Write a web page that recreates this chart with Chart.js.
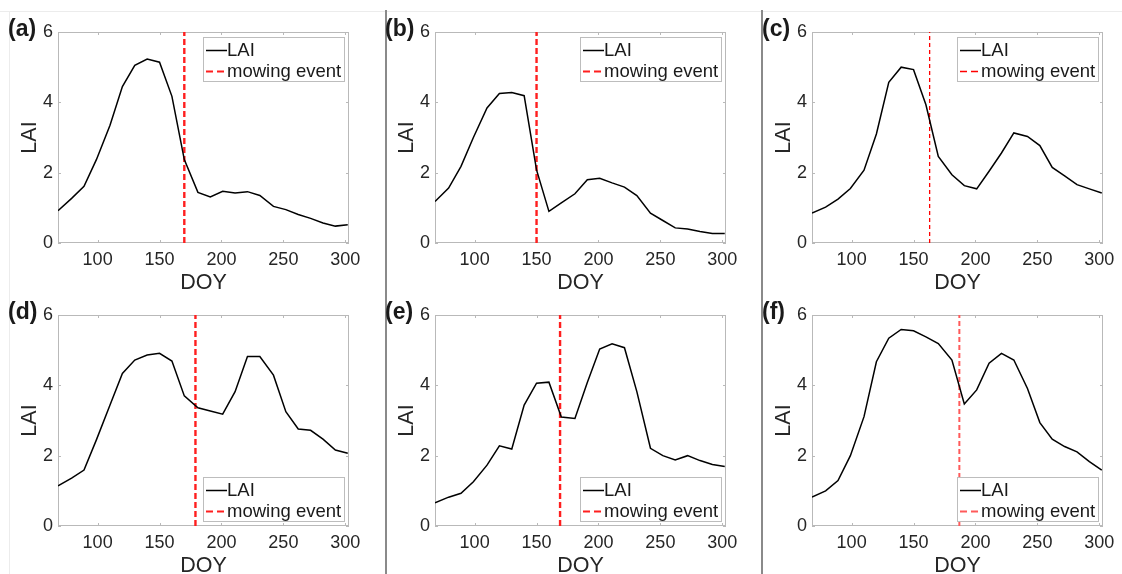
<!DOCTYPE html>
<html>
<head>
<meta charset="utf-8">
<script src="https://cdn.jsdelivr.net/npm/chart.js@4.4.1/dist/chart.umd.min.js"></script>
<style>
  html, body { margin: 0; padding: 0; background: #ffffff; }
  body { width: 1122px; height: 574px; position: relative; overflow: hidden; }
  canvas { position: absolute; }
  .sep { position: absolute; background: #8a8a8a; }
  .faint { position: absolute; background: #ececec; }
</style>
</head>
<body>
<div class="faint" style="left:0;top:11px;width:1122px;height:1px;"></div>
<div class="faint" style="left:9px;top:11px;width:1px;height:563px;"></div>
<div class="sep" style="left:385px;top:10px;width:1.5px;height:564px;"></div>
<div class="sep" style="left:761px;top:10px;width:1.5px;height:564px;"></div>

<canvas id="c0"></canvas>
<canvas id="c1"></canvas>
<canvas id="c2"></canvas>
<canvas id="c3"></canvas>
<canvas id="c4"></canvas>
<canvas id="c5"></canvas>

<script>
// ---------------- data ----------------
const doy = [68, 79, 89, 99, 110, 120, 130, 140, 150, 160, 170, 181, 191, 201, 211, 221, 231, 242, 252, 262, 272, 282, 292, 302];

const laiA = [0.92, 1.27, 1.61, 2.37, 3.35, 4.45, 5.05, 5.23, 5.14, 4.17, 2.37, 1.44, 1.31, 1.47, 1.42, 1.46, 1.35, 1.04, 0.95, 0.81, 0.70, 0.57, 0.48, 0.52];
const laiB = [1.18, 1.56, 2.18, 3.00, 3.84, 4.25, 4.28, 4.19, 2.08, 0.90, 1.14, 1.40, 1.80, 1.84, 1.71, 1.59, 1.35, 0.85, 0.64, 0.43, 0.40, 0.33, 0.27, 0.27];
const laiC = [0.85, 1.02, 1.25, 1.55, 2.07, 3.10, 4.57, 5.00, 4.93, 3.93, 2.46, 1.94, 1.63, 1.54, 2.04, 2.56, 3.13, 3.03, 2.77, 2.15, 1.91, 1.66, 1.54, 1.42];
const laiD = [1.14, 1.36, 1.59, 2.45, 3.44, 4.34, 4.72, 4.86, 4.91, 4.69, 3.70, 3.36, 3.27, 3.18, 3.82, 4.82, 4.82, 4.29, 3.25, 2.76, 2.72, 2.47, 2.16, 2.07];
const laiE = [0.66, 0.82, 0.93, 1.26, 1.73, 2.28, 2.19, 3.44, 4.06, 4.09, 3.10, 3.06, 4.08, 5.03, 5.18, 5.07, 3.82, 2.21, 2.00, 1.88, 2.00, 1.86, 1.75, 1.69];
const laiF = [0.82, 1.00, 1.29, 2.00, 3.11, 4.67, 5.34, 5.59, 5.55, 5.38, 5.19, 4.72, 3.47, 3.87, 4.63, 4.91, 4.72, 3.91, 2.94, 2.47, 2.26, 2.11, 1.83, 1.59];

const mowDoy = [170, 150, 163, 179, 169, 187];
const panelLabels = ['(a)', '(b)', '(c)', '(d)', '(e)', '(f)'];
const xTicks = [100, 150, 200, 250, 300];
const yTicks = [0, 2, 4, 6];
const xRange = [68, 303];
const yRange = [0, 6];

// ---------------- layout / style ----------------
const series = [laiA, laiB, laiC, laiD, laiE, laiF];
const legendCorner = ['tr', 'tr', 'tr', 'br', 'br', 'br'];
const plotLefts = [58, 435, 812];
const plotTops = [32, 315];
const plotW = 291, plotH = 211;
const yAxisW = 58, xAxisH = 51, padRight = 19;
const mowStyle = [
  { color: '#ff1f1f', width: 2.4, dash: [6, 3] },
  { color: '#ff1f1f', width: 2.4, dash: [6, 3] },
  { color: '#ff0000', width: 1.3, dash: [4, 3] },
  { color: '#ff1f1f', width: 2.4, dash: [6, 3] },
  { color: '#ff1f1f', width: 2.4, dash: [6, 3] },
  { color: '#ff5a5a', width: 2.0, dash: [5, 3] }
];
const FONT = '"Liberation Sans", Arial, Helvetica, sans-serif';
const TXT = '#262626';

// box with inward ticks (MATLAB style)
const boxPlugin = {
  id: 'boxAxes',
  beforeDatasetsDraw(chart) {
    const { ctx, chartArea: a, scales } = chart;
    ctx.save();
    ctx.strokeStyle = '#b9b9b9';
    ctx.lineWidth = 1;
    ctx.strokeRect(Math.round(a.left) + 0.5, Math.round(a.top) + 0.5,
                   Math.round(a.right - a.left) - 1, Math.round(a.bottom - a.top) - 1);
    const tl = 3;
    ctx.beginPath();
    scales.x.ticks.forEach(t => {
      const px = Math.round(scales.x.getPixelForValue(t.value)) + 0.5;
      ctx.moveTo(px, a.bottom); ctx.lineTo(px, a.bottom - tl);
      ctx.moveTo(px, a.top); ctx.lineTo(px, a.top + tl);
    });
    scales.y.ticks.forEach(t => {
      const py = Math.round(scales.y.getPixelForValue(t.value)) + 0.5;
      ctx.moveTo(a.left, py); ctx.lineTo(a.left + tl, py);
      ctx.moveTo(a.right, py); ctx.lineTo(a.right - tl, py);
    });
    ctx.stroke();
    ctx.restore();
  }
};

// legend box drawn inside the plot area
const legendPlugin = {
  id: 'boxLegend',
  afterDatasetsDraw(chart, args, opts) {
    const { ctx, chartArea: a } = chart;
    const ds = chart.data.datasets;
    ctx.save();
    ctx.font = '18.5px ' + FONT;
    const tw = Math.max(...ds.map(d => ctx.measureText(d.label).width));
    const w = Math.round(25 + tw + 3), h = 45;
    const x0 = Math.round(a.right - 4 - w);
    const y0 = opts.corner === 'br' ? Math.round(a.bottom - 4 - h) : Math.round(a.top + 5);
    ctx.fillStyle = '#ffffff';
    ctx.fillRect(x0, y0, w, h);
    ctx.strokeStyle = '#bdbdbd';
    ctx.lineWidth = 1;
    ctx.strokeRect(x0 + 0.5, y0 + 0.5, w - 1, h - 1);
    const rows = [y0 + 13, y0 + 34];
    ds.forEach((d, i) => {
      const dashed = !!d.borderDash;
      ctx.save();
      ctx.strokeStyle = d.borderColor;
      ctx.lineWidth = Math.min(d.borderWidth, 2);
      ctx.setLineDash(dashed ? [7, 4] : []);
      ctx.beginPath();
      ctx.moveTo(x0 + 3, rows[i] + 0.5);
      ctx.lineTo(x0 + (dashed ? 21 : 24), rows[i] + 0.5);
      ctx.stroke();
      ctx.restore();
      ctx.fillStyle = '#1a1a1a';
      ctx.textBaseline = 'middle';
      ctx.textAlign = 'left';
      ctx.fillText(d.label, x0 + 24, rows[i] + 1);
    });
    ctx.restore();
  }
};

// panel letter label
const labelPlugin = {
  id: 'panelLabel',
  afterDraw(chart, args, opts) {
    const { ctx, chartArea: a } = chart;
    ctx.save();
    ctx.font = 'bold 23px ' + FONT;
    ctx.fillStyle = '#1a1a1a';
    ctx.textBaseline = 'middle';
    ctx.textAlign = 'left';
    ctx.fillText(opts.text, a.left - 50, a.top - 2);
    ctx.restore();
  }
};

series.forEach((lai, k) => {
  const col = k % 3, row = Math.floor(k / 3);
  const cv = document.getElementById('c' + k);
  const W = yAxisW + plotW + padRight, H = plotTops[0] + plotH + xAxisH;
  cv.width = W; cv.height = H;
  cv.style.width = W + 'px'; cv.style.height = H + 'px';
  cv.style.left = (plotLefts[col] - yAxisW) + 'px';
  cv.style.top = (plotTops[row] - plotTops[0]) + 'px';
  const ms = mowStyle[k];
  new Chart(cv, {
    type: 'line',
    data: {
      datasets: [
        {
          label: 'LAI',
          data: doy.map((x, i) => ({ x: x, y: lai[i] })),
          borderColor: '#000000',
          borderWidth: 1.5,
          pointRadius: 0,
          tension: 0,
          fill: false
        },
        {
          label: 'mowing event',
          data: [{ x: mowDoy[k], y: yRange[0] }, { x: mowDoy[k], y: yRange[1] }],
          borderColor: ms.color,
          borderWidth: ms.width,
          borderDash: ms.dash,
          pointRadius: 0,
          fill: false
        }
      ]
    },
    options: {
      responsive: false,
      animation: false,
      devicePixelRatio: 1,
      layout: { padding: { left: 0, top: plotTops[0], right: padRight, bottom: 0 } },
      plugins: {
        legend: { display: false },
        tooltip: { enabled: false },
        boxLegend: { corner: legendCorner[k] },
        panelLabel: { text: panelLabels[k] }
      },
      scales: {
        x: {
          type: 'linear',
          min: xRange[0], max: xRange[1],
          grid: { display: false, drawTicks: false },
          border: { display: false },
          afterBuildTicks: s => { s.ticks = xTicks.map(v => ({ value: v })); },
          afterFit: s => { s.height = xAxisH; s.paddingLeft = 0; s.paddingRight = 0; },
          ticks: {
            autoSkip: false, maxRotation: 0, padding: 6,
            color: TXT, font: { family: FONT, size: 18 }
          },
          title: {
            display: true, text: 'DOY', color: TXT,
            font: { family: FONT, size: 21.5, lineHeight: 1 },
            padding: { top: 0, bottom: 0 }
          }
        },
        y: {
          type: 'linear',
          min: yRange[0], max: yRange[1],
          grid: { display: false, drawTicks: false },
          border: { display: false },
          afterBuildTicks: s => { s.ticks = yTicks.map(v => ({ value: v })); },
          afterFit: s => { s.width = yAxisW; s.paddingTop = 0; s.paddingBottom = 0; },
          ticks: {
            padding: 5, color: TXT, font: { family: FONT, size: 18 }
          },
          title: {
            display: true, text: 'LAI', color: TXT,
            font: { family: FONT, size: 21.5, lineHeight: 1 },
            padding: { top: 19, bottom: 0 }
          }
        }
      }
    },
    plugins: [boxPlugin, legendPlugin, labelPlugin]
  });
});
</script>
</body>
</html>
